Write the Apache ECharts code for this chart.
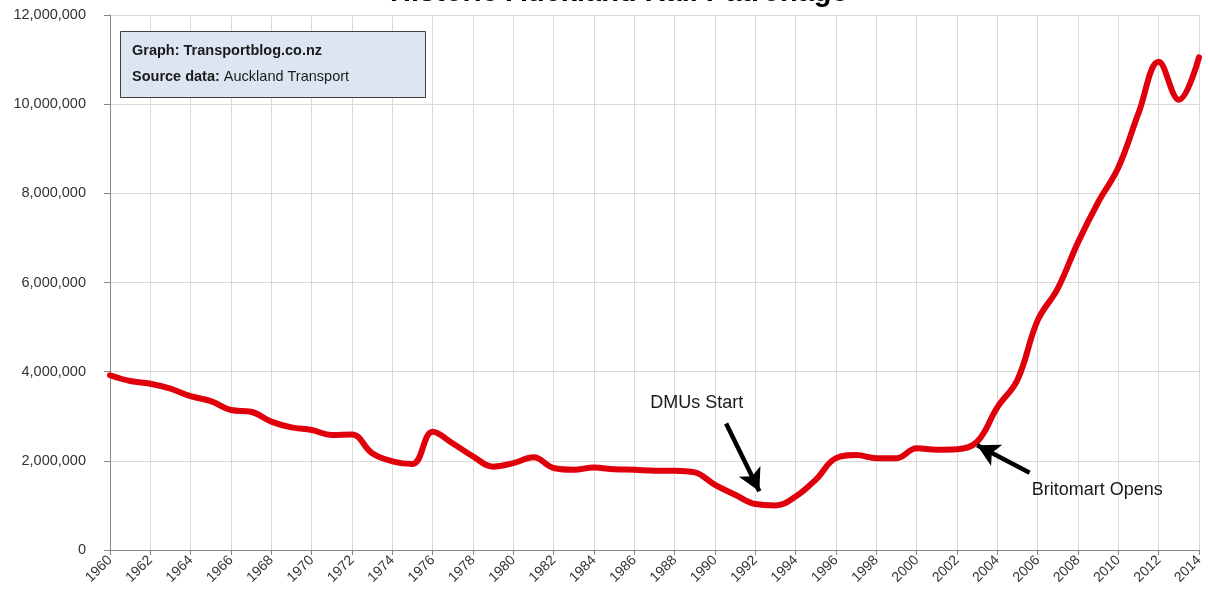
<!DOCTYPE html>
<html>
<head>
<meta charset="utf-8">
<script src="https://cdn.jsdelivr.net/npm/echarts@6/dist/echarts.min.js"></script>
<style>
  html, body { margin: 0; padding: 0; background: #ffffff; }
  #chart { width: 1208px; height: 600px; }
</style>
</head>
<body>
<div id="chart"></div>
<script>
// ---- data ----
const years = [1960,1961,1962,1963,1964,1965,1966,1967,1968,1969,
               1970,1971,1972,1973,1974,1975,1976,1977,1978,1979,
               1980,1981,1982,1983,1984,1985,1986,1987,1988,1989,
               1990,1991,1992,1993,1994,1995,1996,1997,1998,1999,
               2000,2001,2002,2003,2004,2005,2006,2007,2008,2009,
               2010,2011,2012,2013,2014];
const patronage = [3920000,3790000,3730000,3620000,3450000,3340000,3140000,3100000,2880000,2750000,
                   2690000,2580000,2590000,2170000,1990000,1930000,2650000,2390000,2100000,1870000,
                   1950000,2080000,1840000,1800000,1850000,1810000,1800000,1780000,1780000,1740000,
                   1460000,1240000,1030000,1000000,1200000,1580000,2060000,2130000,2060000,2060000,
                   2280000,2250000,2260000,2430000,3200000,3820000,5150000,5870000,6900000,7800000,
                   8580000,9800000,10950000,10100000,11050000];
const titleText = 'Historic Auckland Rail Patronage';
const annotationLabels = ['DMUs Start', 'Britomart Opens'];
// annotation anchor points in data space: [year, value]
const dmuText = [1989.1, 3290000];
const dmuArrow = [[1990.55, 2840000], [1992.2, 1320000]];
const britoText = [2008.95, 1356000];
const britoArrow = [[2005.6, 1733000], [2003.0, 2350000]];

const chart = echarts.init(document.getElementById('chart'), null, { renderer: 'canvas' });
const FONT = 'Liberation Sans';

const option = {
  animation: false,
  backgroundColor: '#ffffff',
  title: [
    {
      text: titleText,
      left: 390,
      top: -22,
      padding: 0,
      textStyle: { fontFamily: FONT, fontWeight: 'bold', fontSize: 29, color: '#000' }
    },
    {
      text: '{b|Graph: Transportblog.co.nz}\n{b|Source data:} {n|Auckland Transport}',
      left: 120,
      top: 31,
      padding: [7, 12, 8, 12],
      backgroundColor: '#dce6f2',
      borderColor: '#404040',
      borderWidth: 1,
      textStyle: {
        fontFamily: FONT,
        fontSize: 14.5,
        lineHeight: 26,
        width: 282,
        rich: {
          b: { fontFamily: FONT, fontWeight: 'bold', fontSize: 14.5, color: '#1a1a1a', lineHeight: 26 },
          n: { fontFamily: FONT, fontWeight: 'normal', fontSize: 14.5, color: '#1a1a1a', lineHeight: 26 }
        }
      }
    }
  ],
  grid: { left: 110, right: 9, top: 15, bottom: 50, containLabel: false },
  xAxis: {
    type: 'value',
    min: 1960,
    max: 2014,
    interval: 2,
    axisLine: { show: true, lineStyle: { color: '#868686', width: 1 } },
    axisTick: { show: true, length: 5, lineStyle: { color: '#868686' } },
    splitLine: { show: true, lineStyle: { color: '#d9d9d9', width: 1 } },
    axisLabel: {
      rotate: 45,
      margin: 8,
      fontFamily: FONT,
      fontSize: 14,
      color: '#333333',
      formatter: v => String(v)
    }
  },
  yAxis: {
    type: 'value',
    min: 0,
    max: 12000000,
    interval: 2000000,
    axisLine: { show: true, lineStyle: { color: '#868686', width: 1 } },
    axisTick: { show: true, length: 6, lineStyle: { color: '#868686' } },
    splitLine: { show: true, lineStyle: { color: '#d9d9d9', width: 1 } },
    axisLabel: { fontFamily: FONT, fontSize: 14.5, color: '#333333', margin: 24 }
  },
  series: [
    {
      type: 'line',
      data: years.map((y, i) => [y, patronage[i]]),
      smooth: 0.4,
      showSymbol: false,
      symbol: 'none',
      lineStyle: { color: '#e0000b', width: 6, cap: 'round', join: 'round' },
      z: 3,
      markLine: {
        silent: true,
        symbol: ['none', 'arrow'],
        symbolSize: [18, 22],
        label: { show: false },
        lineStyle: { color: '#000', width: 4.5, type: 'solid' },
        data: [
          [ { coord: dmuArrow[0] }, { coord: dmuArrow[1] } ],
          [ { coord: britoArrow[0] }, { coord: britoArrow[1] } ]
        ]
      },
      markPoint: {
        silent: true,
        symbol: 'circle',
        symbolSize: 0,
        label: {
          show: true,
          position: 'inside',
          formatter: '{b}',
          fontFamily: FONT,
          fontSize: 18,
          color: '#1a1a1a'
        },
        data: [
          { name: annotationLabels[0], coord: dmuText },
          { name: annotationLabels[1], coord: britoText }
        ]
      }
    }
  ]
};
chart.setOption(option);
</script>
</body>
</html>
